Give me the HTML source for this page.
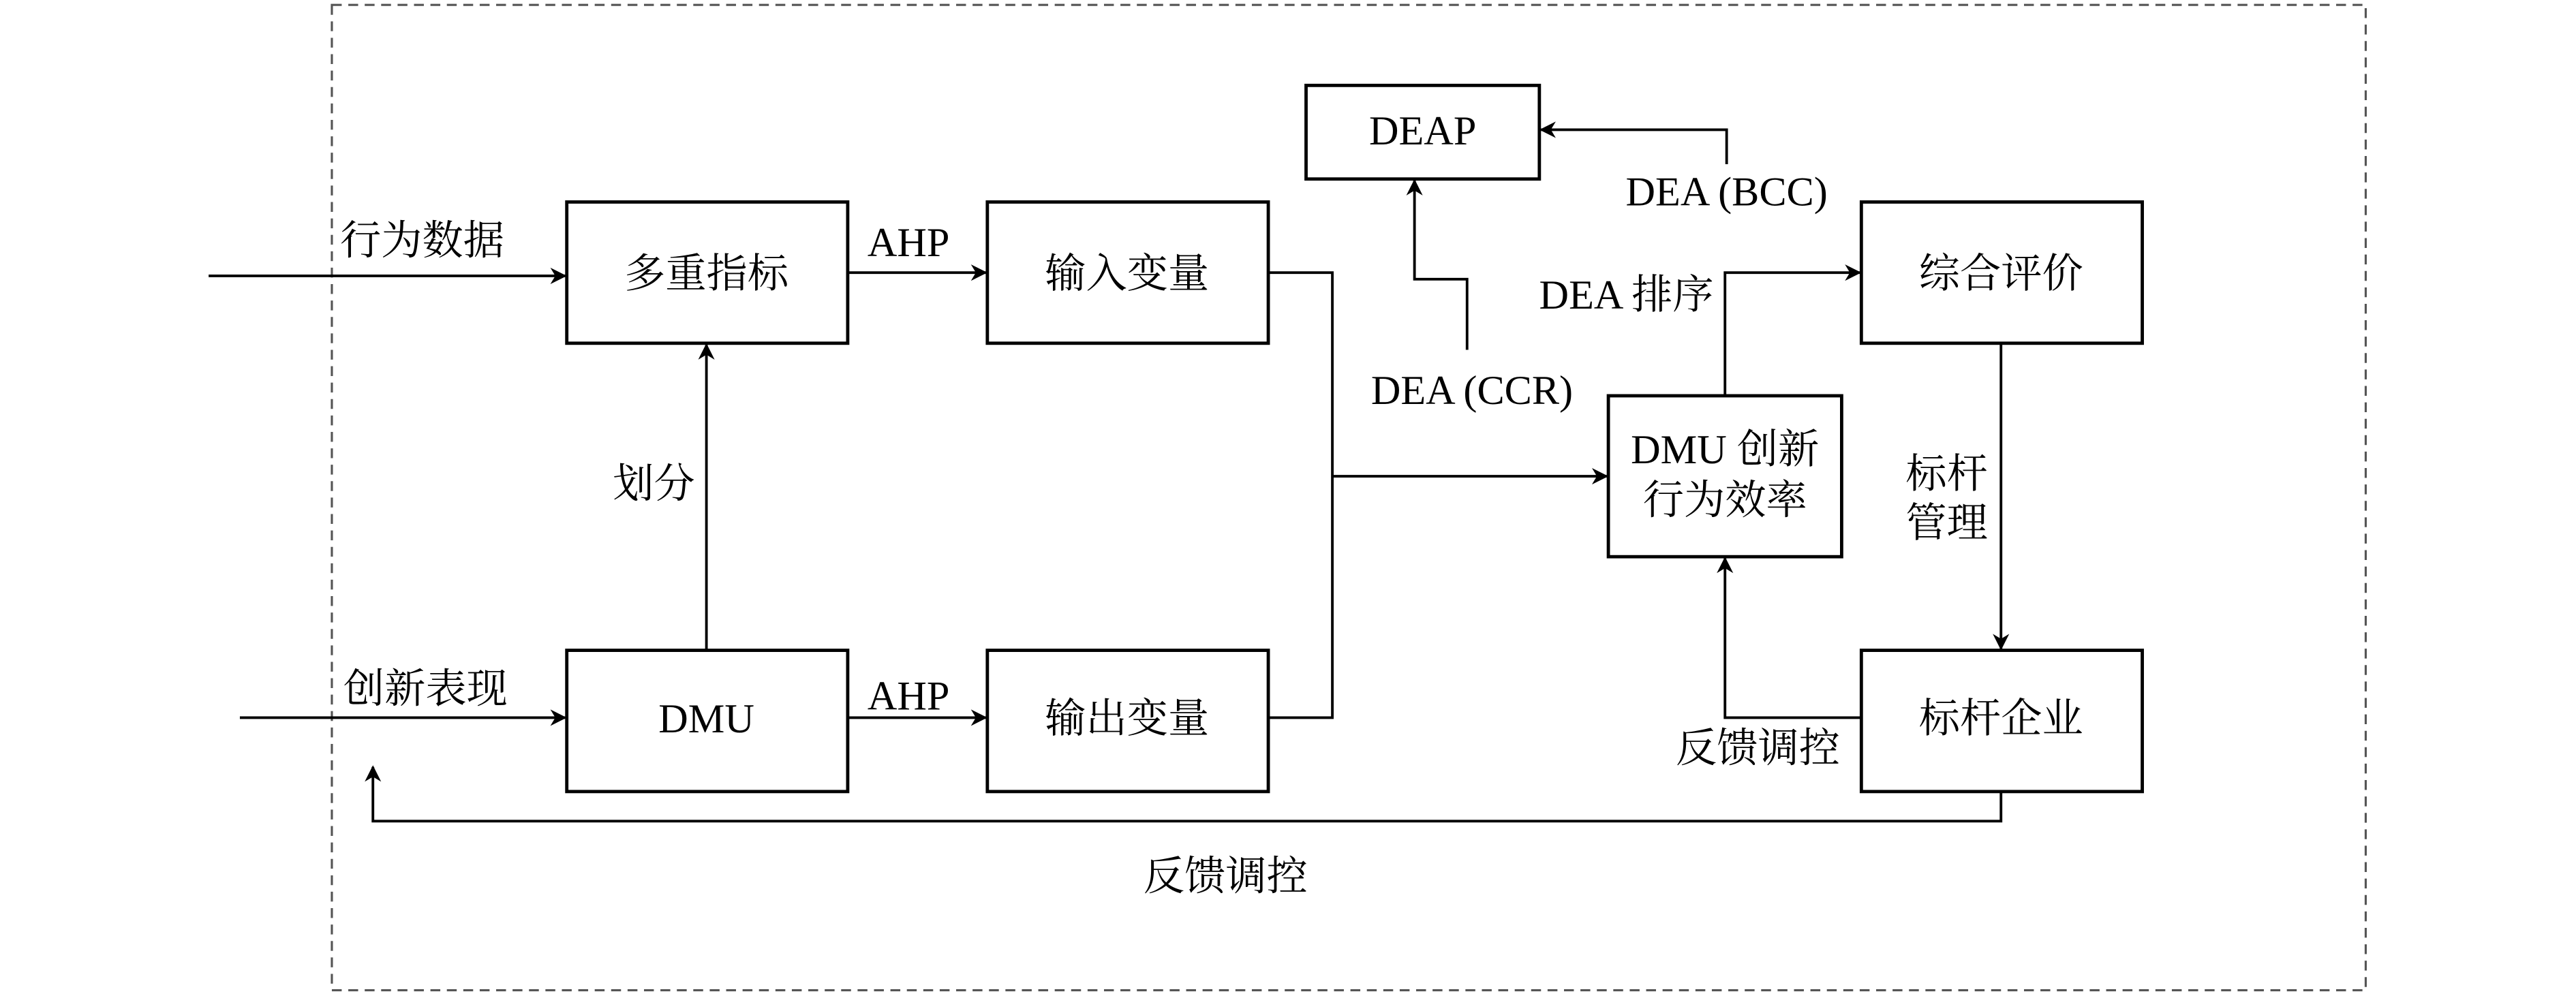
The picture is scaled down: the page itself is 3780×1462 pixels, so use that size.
<!DOCTYPE html>
<html><head><meta charset="utf-8"><style>
html,body{margin:0;padding:0;background:#fff;}
svg{display:block;}
text{font-family:"Liberation Serif","Noto Serif CJK SC",serif;font-size:25px;fill:#000;}
</style></head><body>
<svg width="3780" height="1462" viewBox="0 0 1568 606.5" preserveAspectRatio="none" xmlns="http://www.w3.org/2000/svg">
<defs>
<marker id="a" markerWidth="10" markerHeight="10" refX="9" refY="5" orient="auto" markerUnits="userSpaceOnUse">
<path d="M0,0 L10,5 L0,10 L3,5 Z" fill="#000"/>
</marker>
</defs>
<rect x="202" y="3" width="1238" height="600" fill="none" stroke="#555" stroke-width="1.3" stroke-dasharray="6,4"/>
<g fill="none" stroke="#000" stroke-width="2">
<rect x="345" y="123" width="171" height="86"/>
<rect x="601" y="123" width="171" height="86"/>
<rect x="345" y="396" width="171" height="86"/>
<rect x="601" y="396" width="171" height="86"/>
<rect x="795" y="52" width="142" height="57"/>
<rect x="1133" y="123" width="171" height="86"/>
<rect x="1133" y="396" width="171" height="86"/>
<rect x="979" y="241" width="142" height="98"/>
</g>
<g fill="none" stroke="#000" stroke-width="1.6">
<path d="M127,168 H344" marker-end="url(#a)"/>
<path d="M146,437 H344" marker-end="url(#a)"/>
<path d="M516,166 H600" marker-end="url(#a)"/>
<path d="M516,437 H600" marker-end="url(#a)"/>
<path d="M430,396 V210" marker-end="url(#a)"/>
<path d="M772,166 H811 V437 H772"/>
<path d="M811,290 H978" marker-end="url(#a)"/>
<path d="M1050,241 V166 H1132" marker-end="url(#a)"/>
<path d="M893,213 V170 H861 V110" marker-end="url(#a)"/>
<path d="M1051,100 V79 H938" marker-end="url(#a)"/>
<path d="M1218,209 V395" marker-end="url(#a)"/>
<path d="M1133,437 H1050 V340" marker-end="url(#a)"/>
<path d="M1218,482 V500 H227 V467" marker-end="url(#a)"/>
</g>
<g text-anchor="middle">
<text x="430" y="175">多重指标</text>
<text x="686" y="175">输入变量</text>
<text x="430" y="446">DMU</text>
<text x="686" y="446">输出变量</text>
<text x="866" y="88">DEAP</text>
<text x="1218" y="175">综合评价</text>
<text x="1218" y="446">标杆企业</text>
<text x="1050" y="282">DMU 创新</text>
<text x="1050" y="313">行为效率</text>
<text x="257" y="155">行为数据</text>
<text x="259" y="428">创新表现</text>
<text x="553" y="156">AHP</text>
<text x="553" y="432">AHP</text>
<text x="398" y="303">划分</text>
<text x="896" y="246">DEA (CCR)</text>
<text x="990" y="188">DEA 排序</text>
<text x="1051" y="125">DEA (BCC)</text>
<text x="1185" y="297">标杆</text>
<text x="1185" y="327">管理</text>
<text x="1070" y="464">反馈调控</text>
<text x="746" y="542">反馈调控</text>
</g>
</svg>
</body></html>
